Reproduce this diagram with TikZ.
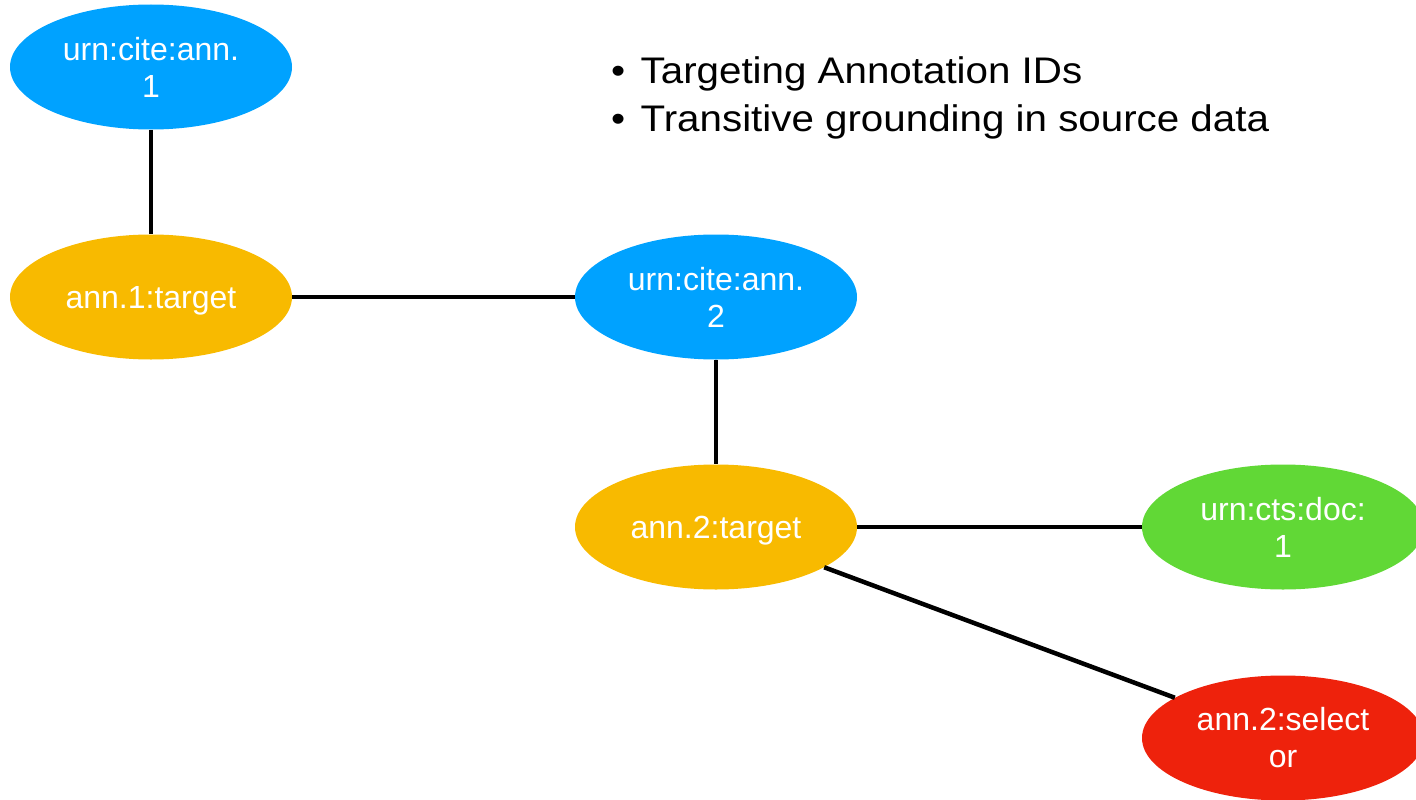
\documentclass[tikz,border=0pt]{standalone}
\usepackage{fontspec}
\setmainfont{Liberation Sans}
\usetikzlibrary{shapes.geometric}
\definecolor{kblue}{HTML}{00A2FF}
\definecolor{korange}{HTML}{F8BA00}
\definecolor{kgreen}{HTML}{61D836}
\definecolor{kred}{HTML}{EE220C}
\begin{document}
\begin{tikzpicture}[x=1pt,y=-1pt,
  blob/.style={ellipse,minimum width=282pt,minimum height=125pt,inner sep=0pt,
    text=white,align=center,font=\fontsize{32}{37}\selectfont},
  oneline/.style={text depth=0pt},
  link/.style={line width=4.5pt,black},
  bullet/.style={anchor=base west,inner sep=0pt,xscale=1.09,transform shape,
    font=\fontsize{37}{44}\selectfont}]
\useasboundingbox (0,0) rectangle (1416,800);
\node[blob,fill=kblue] (u1) at (151,67) {urn:cite:ann.\\1};
\node[blob,oneline,fill=korange] (t1) at (151,297) {ann.1:target};
\node[blob,fill=kblue] (u2) at (716,297) {urn:cite:ann.\\2};
\node[blob,oneline,fill=korange] (t2) at (716,527) {ann.2:target};
\node[blob,fill=kgreen] (d1) at (1283,527) {urn:cts:doc:\\1};
\node[blob,fill=kred] (s2) at (1283,738) {ann.2:select\\or};
\draw[link] (u1) -- (t1);
\draw[link] (t1) -- (u2);
\draw[link] (u2) -- (t2);
\draw[link] (t2) -- (d1);
\draw[link] (t2) -- (s2);
\node[bullet] (b1) at (611,84) {\makebox[27pt][l]{•}Targeting Annotation IDs};
\node[bullet] (b2) at (611,131) {\makebox[27pt][l]{•}Transitive grounding in source data};
\end{tikzpicture}
\end{document}
